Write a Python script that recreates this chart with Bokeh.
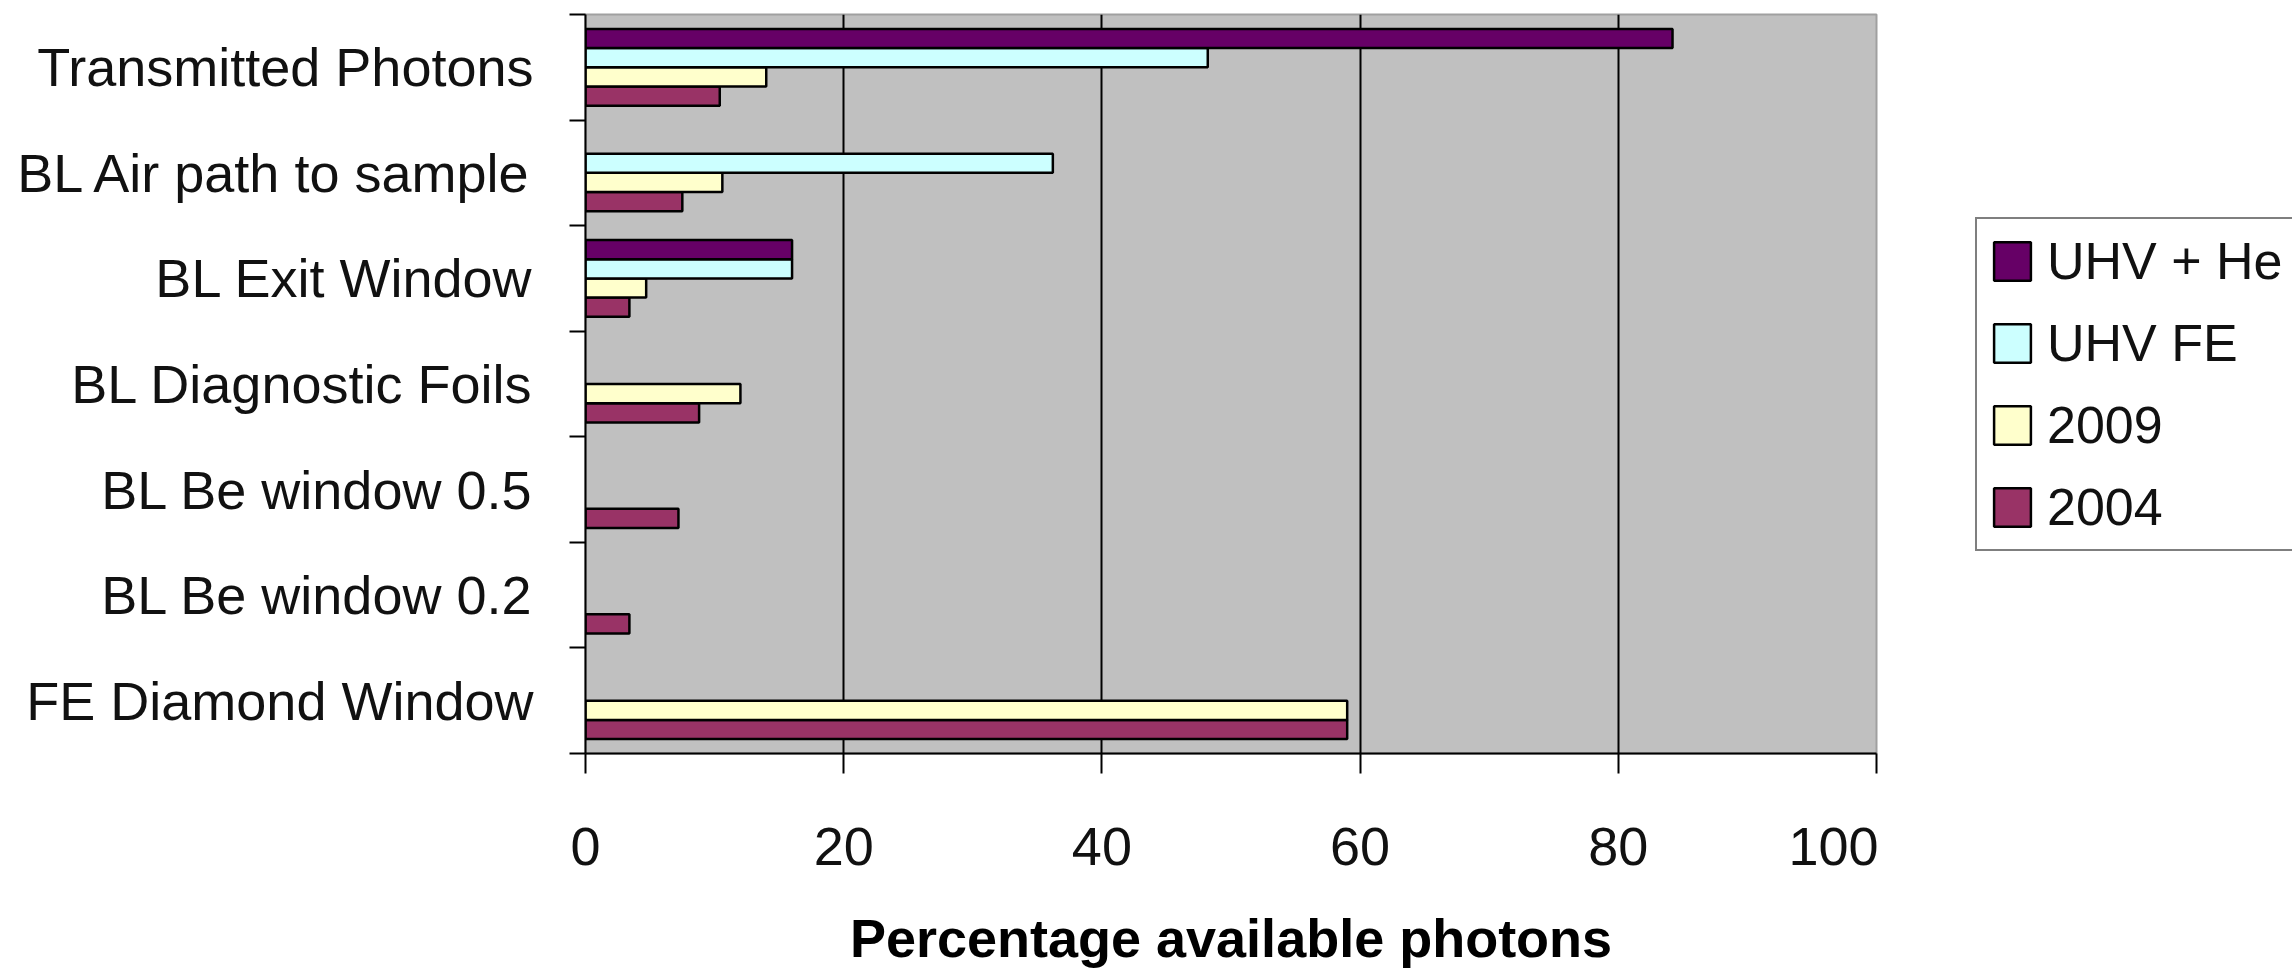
import math

from bokeh.embed import file_html
from bokeh.layouts import row
from bokeh.models import (ColumnDataSource, FixedTicker, Legend, LegendItem,
                          Range1d)
from bokeh.plotting import figure
from bokeh.resources import INLINE

nan = float("nan")

# Categories listed bottom to top
categories = [
    "FE Diamond Window",
    "BL Be window 0.2",
    "BL Be window 0.5",
    "BL Diagnostic Foils",
    "BL Exit Window",
    "BL Air path to sample",
    "Transmitted Photons",
]

# Percentage of available photons per stage (nan = no bar)
s_2004 = [59.0, 3.4, 7.2, 8.8, 3.4, 7.5, 10.4]
s_2009 = [59.0, nan, nan, 12.0, 4.7, 10.6, 14.0]
s_uhv_fe = [nan, nan, nan, nan, 16.0, 36.2, 48.2]
s_uhv_he = [nan, nan, nan, nan, 16.0, nan, 84.2]

series_names = ["2004", "2009", "UHV FE", "UHV + He"]
series_values = [s_2004, s_2009, s_uhv_fe, s_uhv_he]
series_colors = ["#993366", "#FFFFCC", "#CCFFFF", "#660066"]

x_ticks = [0, 20, 40, 60, 80, 100]
grid_ticks = [20, 40, 60, 80]

FONT = "Liberation Sans"

n_cat = len(categories)
n_ser = len(series_names)
bar_h = 1.0 / (n_ser + 1.5)   # 150% gap between groups

p = figure(
    width=1878, height=970,
    x_range=Range1d(0, 100), y_range=Range1d(-0.5, n_cat - 0.5),
    output_backend="svg", toolbar_location=None,
    min_border_left=585, min_border_right=2,
    min_border_top=14, min_border_bottom=217,
    background_fill_color="#C0C0C0", border_fill_color="white",
    outline_line_color="#A0A0A0", outline_line_width=2,
)

# Side panel that carries the legend; its glyphs have no drawable rows
p_leg = figure(
    width=414, height=970,
    x_range=Range1d(0, 100), y_range=Range1d(-0.5, n_cat - 0.5),
    output_backend="svg", toolbar_location=None,
    min_border=0, outline_line_color=None,
    background_fill_color="white", border_fill_color="white",
)
p_leg.axis.visible = False
p_leg.grid.visible = False

renderers = {}
leg_renderers = {}
for k, (name, vals, col) in enumerate(zip(series_names, series_values, series_colors)):
    offset = (k - (n_ser - 1) / 2) * bar_h
    ys = [i + offset for i, v in enumerate(vals) if not math.isnan(v)]
    rs = [v for v in vals if not math.isnan(v)]
    src = ColumnDataSource(dict(y=ys, right=rs))
    style = dict(fill_color=col, line_color="black", line_width=2.5)
    renderers[name] = p.hbar(y="y", left=0, right="right", height=bar_h,
                             source=src, **style)
    key_src = ColumnDataSource(dict(y=[nan], right=[nan]))
    leg_renderers[name] = p_leg.hbar(y="y", left=0, right="right",
                                     height=bar_h, source=key_src, **style)

# grid
p.xgrid.ticker = FixedTicker(ticks=grid_ticks)
p.xgrid.grid_line_color = "black"
p.xgrid.grid_line_width = 2
p.ygrid.visible = False

# x axis
xa = p.xaxis[0]
xa.ticker = FixedTicker(ticks=x_ticks)
xa.axis_line_color = "black"
xa.axis_line_width = 2
xa.major_tick_line_color = "black"
xa.major_tick_line_width = 2
xa.major_tick_out = 20
xa.major_tick_in = 0
xa.minor_tick_line_color = None
xa.major_label_text_font = FONT
xa.major_label_text_font_size = "54px"
xa.major_label_text_color = "#111111"
xa.major_label_standoff = 54
xa.axis_label = "Percentage available photons"
xa.axis_label_text_font = FONT
xa.axis_label_text_font_style = "bold"
xa.axis_label_text_font_size = "54px"
xa.axis_label_text_color = "#000000"
xa.axis_label_standoff = 40

# y axis: labels at category centres, ticks at category boundaries
ya = p.yaxis[0]
ya.ticker = FixedTicker(ticks=list(range(n_cat)),
                        minor_ticks=[i - 0.5 for i in range(n_cat + 1)])
ya.major_label_overrides = {i: c for i, c in enumerate(categories)}
ya.axis_line_color = "black"
ya.axis_line_width = 2
ya.major_tick_line_color = None
ya.major_tick_out = 0
ya.major_tick_in = 0
ya.minor_tick_line_color = "black"
ya.minor_tick_line_width = 2
ya.minor_tick_out = 16
ya.minor_tick_in = 0
ya.major_label_text_font = FONT
ya.major_label_text_font_size = "54px"
ya.major_label_text_color = "#111111"
ya.major_label_standoff = 36

legend = Legend(
    items=[LegendItem(label=n, renderers=[leg_renderers[n]]) for n in reversed(series_names)],
    location=(97, 202),
    label_text_font=FONT, label_text_font_size="52px", label_text_color="#111111",
    glyph_width=46, glyph_height=48, label_standoff=12,
    label_width=260, label_height=60,
    spacing=22, padding=12, margin=0,
    border_line_color="black", border_line_width=2.5,
    background_fill_color="white", background_fill_alpha=1.0,
)
p_leg.add_layout(legend)

layout = row(p, p_leg, spacing=0)
open("out.html", "w").write(file_html(layout, INLINE))
